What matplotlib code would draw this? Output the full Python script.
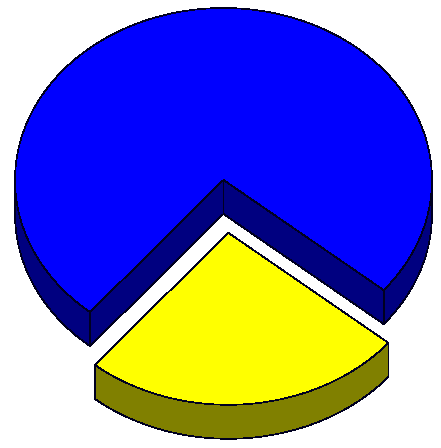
import matplotlib
matplotlib.use('Agg')
import matplotlib.pyplot as plt
import numpy as np
from matplotlib.patches import Polygon

# 3D pie, drawn by hand because matplotlib has no extruded pie
values = [75, 25]
top_colors = ['#0000ff', '#ffff00']
side_colors = ['#000080', '#808000']
start_angle = -39.8  # degrees, counted counterclockwise from east
explode = [0, 53]

rx = 208.5
ry = 172.0
depth = 34
cx, cy = 223.5, 448 - 180


def arc(c, a0, a1, n=200):
    t = np.radians(np.linspace(a0, a1, n))
    return np.column_stack([c[0] + rx * np.cos(t), c[1] + ry * np.sin(t)])


def poly(ax, pts, color, z):
    ax.add_patch(Polygon(pts, fc=color, ec='#000020', lw=0.5, zorder=z, antialiased=False))


def draw_slice(ax, c, a0, a1, top, side, z):
    down = np.array([0, -depth])
    c = np.array(c)
    # cut faces of the slice
    for a in (a0, a1):
        edge = arc(c, a, a, 1)[0]
        poly(ax, [c, edge, edge + down, c + down], side, z)
    # outer wall only where the rim faces the viewer
    for lo, hi in ((-180, 0), (180, 360)):
        lo, hi = max(a0, lo), min(a1, hi)
        if hi > lo:
            rim = arc(c, lo, hi)
            poly(ax, np.vstack([rim, (rim + down)[::-1]]), side, z + 1)
    poly(ax, np.vstack([[c], arc(c, a0, a1)]), top, z + 2)


fig = plt.figure(figsize=(4.41, 4.48), dpi=100)
ax = fig.add_axes([0, 0, 1, 1])
ax.set_xlim(0, 441)
ax.set_ylim(0, 448)
ax.axis('off')

angles = start_angle + 360 * np.cumsum([0] + values) / np.sum(values)
for i in range(len(values)):
    a0, a1 = angles[i], angles[i + 1]
    mid = np.radians((a0 + a1) / 2)
    c = (cx + explode[i] * np.cos(mid), cy + explode[i] * np.sin(mid))
    draw_slice(ax, c, a0, a1, top_colors[i], side_colors[i], 2 + 4 * i)

fig.savefig('out.png', dpi=100)
